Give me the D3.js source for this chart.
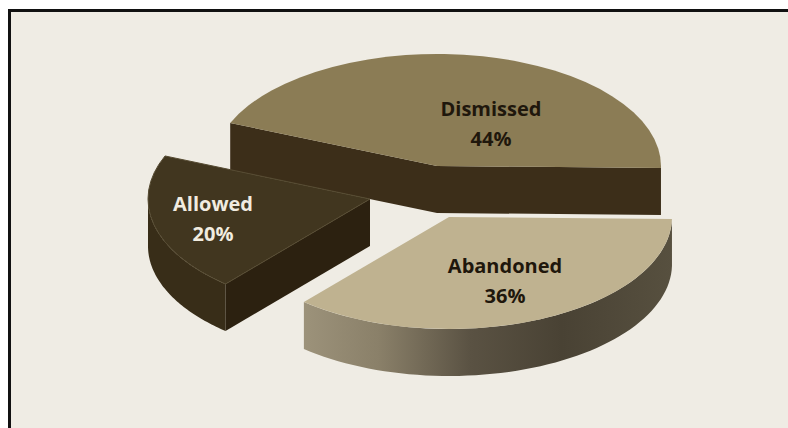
<!DOCTYPE html>
<html><head><meta charset="utf-8">
<script src="https://cdn.jsdelivr.net/npm/d3@7/dist/d3.min.js"></script>
<style>html,body{margin:0;padding:0;background:#fff}svg{display:block}</style>
</head><body><svg id="c" width="788" height="428"></svg>
<script>
const categories = ["Abandoned", "Allowed", "Dismissed"];
const values = [36, 20, 44];
const topColors = ["#bfb290", "#41361f", "#8b7c55"];
const textColors = ["#1f170c", "#f1ece0", "#1f170c"];

const W = 788, H = 428, depth = 47;
const svg = d3.select("#c");
const defs = svg.append("defs");
svg.append("rect").attr("x",9.5).attr("y",10.5).attr("width",W).attr("height",H).attr("fill","#efece4").attr("stroke","#111").attr("stroke-width",3);

const rad = d => d * Math.PI / 180;
const pie = d3.pie().sort(null).startAngle(rad(91)).endAngle(rad(451)).value((d,i)=>values[i]);
const arcs = pie(categories);
const geom = {
  Abandoned: {cx:449, cy:217, rx:223, ry:112, lx:505, ly:266},
  Allowed:   {cx:370, cy:199, rx:222, ry:112, lx:213, ly:204},
  Dismissed: {cx:437, cy:166, rx:224, ry:112, lx:491, ly:109}
};
const pt = (g,a,dz=0) => [g.cx + g.rx*Math.sin(a), g.cy - g.ry*Math.cos(a) + dz];
const line = d3.line();
const rimPts = (g,a0,a1) => d3.range(0,61).map(i=>pt(g,a0+(a1-a0)*i/60));
const outerWall = (g,a0,a1) => {
  const t = rimPts(g,a0,a1), b = rimPts(g,a1,a0).map(p=>[p[0],p[1]+depth]);
  return line(t.concat(b))+"Z";
};
const cutWall = (g,a) => {
  const p = pt(g,a), c=[g.cx,g.cy];
  return line([c,p,[p[0],p[1]+depth],[c[0],c[1]+depth]])+"Z";
};

const grad = defs.append("linearGradient").attr("id","abSide").attr("gradientUnits","userSpaceOnUse")
  .attr("x1",305).attr("x2",672).attr("y1",0).attr("y2",0);
[[0,"#9c927a"],[0.2,"#8a8069"],[0.45,"#5a5243"],[0.7,"#494234"],[1,"#57503f"]].forEach(s=>
  grad.append("stop").attr("offset",s[0]).attr("stop-color",s[1]));

const order = ["Dismissed","Allowed","Abandoned"];
order.forEach(name => {
  const i = categories.indexOf(name), d = arcs[i], g = geom[name];
  const gr = svg.append("g").attr("class","slice");
  if (name==="Dismissed") {
    gr.append("path").attr("d",cutWall(g,d.startAngle)).attr("fill","#3c2e19");
    gr.append("path").attr("d",cutWall(g,d.endAngle)).attr("fill","#3c2e19");
  }
  if (name==="Allowed") {
    gr.append("path").attr("d",outerWall(g,d.startAngle,rad(270))).attr("fill","#382d18");
    gr.append("path").attr("d",cutWall(g,d.startAngle)).attr("fill","#2c2110");
  }
  if (name==="Abandoned") {
    gr.append("path").attr("d",outerWall(g,d.startAngle,Math.min(d.endAngle,rad(270)))).attr("fill","url(#abSide)");
  }
  const arcGen = d3.arc().innerRadius(0).outerRadius(g.rx);
  gr.append("path").attr("d",arcGen(d))
    .attr("transform",`translate(${g.cx},${g.cy}) scale(1,${g.ry/g.rx})`)
    .attr("fill",topColors[i])
    .attr("stroke",name==="Allowed"?"#564b32":"none")
    .attr("stroke-width",name==="Allowed"?1:0)
    .attr("vector-effect","non-scaling-stroke");
});
order.forEach(name => {
  const i = categories.indexOf(name), g = geom[name];
  const t = svg.append("text").attr("text-anchor","middle").attr("font-family","'Open Sans', sans-serif")
    .attr("font-weight",700).attr("font-size",20).attr("fill",textColors[i]);
  t.append("tspan").attr("x",g.lx).attr("y",g.ly+7).text(name);
  t.append("tspan").attr("x",g.lx).attr("y",g.ly+37).text(values[i]+"%");
});
</script></body></html>
